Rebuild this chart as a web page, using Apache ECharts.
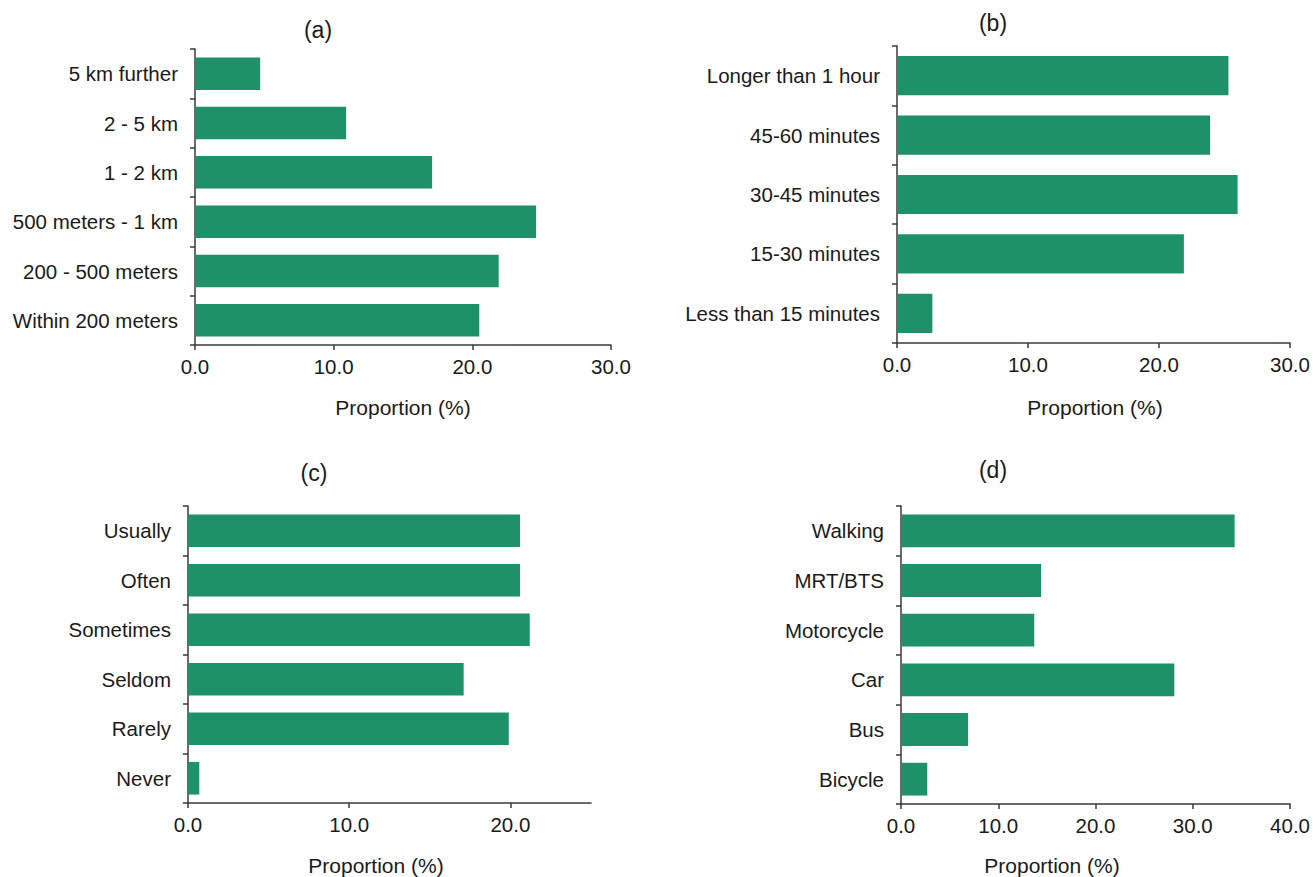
<!DOCTYPE html>
<html>
<head>
<meta charset="utf-8">
<script src="https://cdn.jsdelivr.net/npm/echarts@6/dist/echarts.min.js"></script>
<style>
  html, body { margin: 0; padding: 0; background: #ffffff; }
  #chart { width: 1313px; height: 877px; }
</style>
</head>
<body>
<div id="chart"></div>
<script>
// (a) distance
const distanceCategories = ['5 km further', '2 - 5 km', '1 - 2 km', '500 meters - 1 km', '200 - 500 meters', 'Within 200 meters'];
const distanceValues = [4.7, 10.9, 17.1, 24.6, 21.9, 20.5];
const distanceTicks = [0, 10, 20, 30];

// (b) duration
const durationCategories = ['Longer than 1 hour', '45-60 minutes', '30-45 minutes', '15-30 minutes', 'Less than 15 minutes'];
const durationValues = [25.3, 23.9, 26.0, 21.9, 2.7];
const durationTicks = [0, 10, 20, 30];

// (c) frequency
const frequencyCategories = ['Usually', 'Often', 'Sometimes', 'Seldom', 'Rarely', 'Never'];
const frequencyValues = [20.6, 20.6, 21.2, 17.1, 19.9, 0.7];
const frequencyTicks = [0, 10, 20];

// (d) travel mode
const modeCategories = ['Walking', 'MRT/BTS', 'Motorcycle', 'Car', 'Bus', 'Bicycle'];
const modeValues = [34.3, 14.4, 13.7, 28.1, 6.9, 2.7];
const modeTicks = [0, 10, 20, 30, 40];

const panelLabels = ['(a)', '(b)', '(c)', '(d)'];
const axisTitle = 'Proportion (%)';

const BAR_COLOR = '#1f9169';
const AXIS_COLOR = '#3a3a3a';
const TEXT_COLOR = '#1a1a1a';
const FONT = '"Liberation Sans", Arial, sans-serif';
const LABEL_SIZE = 20.5;

const panels = [
  { cats: distanceCategories, vals: distanceValues, ticks: distanceTicks, max: 30,
    grid: { left: 195, top: 49, width: 416, height: 296 }, label: panelLabels[0],
    labelPos: [318, 30], namePos: [403, 407] },
  { cats: durationCategories, vals: durationValues, ticks: durationTicks, max: 30,
    grid: { left: 897, top: 46, width: 393, height: 297 }, label: panelLabels[1],
    labelPos: [993, 23], namePos: [1095, 407] },
  { cats: frequencyCategories, vals: frequencyValues, ticks: frequencyTicks, max: 25,
    grid: { left: 188, top: 506, width: 403, height: 297 }, label: panelLabels[2],
    labelPos: [314, 473], namePos: [376, 865] },
  { cats: modeCategories, vals: modeValues, ticks: modeTicks, max: 40,
    grid: { left: 901, top: 506, width: 391, height: 298 }, label: panelLabels[3],
    labelPos: [993, 470], namePos: [1052, 865] }
];

const axisLineStyle = { color: AXIS_COLOR, width: 1.5 };

const option = {
  animation: false,
  backgroundColor: '#ffffff',
  textStyle: { fontFamily: FONT },
  title: [],
  grid: [],
  xAxis: [],
  yAxis: [],
  series: []
};

panels.forEach((p, i) => {
  option.grid.push(Object.assign({ containLabel: false }, p.grid));

  option.xAxis.push({
    type: 'value',
    gridIndex: i,
    min: 0,
    max: p.max,
    interval: 10,
    splitLine: { show: false },
    axisLine: { show: true, lineStyle: axisLineStyle },
    axisTick: { show: true, length: 5, lineStyle: axisLineStyle, customValues: p.ticks },
    axisLabel: {
      customValues: p.ticks,
      formatter: v => Number(v).toFixed(1),
      fontSize: LABEL_SIZE, color: TEXT_COLOR, fontFamily: FONT, margin: 11
    }
  });

  option.yAxis.push({
    type: 'category',
    gridIndex: i,
    inverse: true,
    data: p.cats,
    axisLine: { show: true, lineStyle: axisLineStyle },
    axisTick: { show: true, length: 5, lineStyle: axisLineStyle },
    axisLabel: { fontSize: LABEL_SIZE, color: TEXT_COLOR, fontFamily: FONT, margin: 17 }
  });

  option.series.push({
    type: 'bar',
    xAxisIndex: i,
    yAxisIndex: i,
    data: p.vals,
    barCategoryGap: '34%',
    itemStyle: { color: BAR_COLOR },
    silent: true
  });

  option.title.push({
    text: p.label,
    left: p.labelPos[0],
    top: p.labelPos[1],
    textAlign: 'center',
    textVerticalAlign: 'middle',
    padding: 0,
    textStyle: { fontSize: 23, fontWeight: 'normal', color: TEXT_COLOR, fontFamily: FONT }
  });
  option.title.push({
    text: axisTitle,
    left: p.namePos[0],
    top: p.namePos[1],
    textAlign: 'center',
    textVerticalAlign: 'middle',
    padding: 0,
    textStyle: { fontSize: 21, fontWeight: 'normal', color: TEXT_COLOR, fontFamily: FONT }
  });
});

const chart = echarts.init(document.getElementById('chart'), null, { renderer: 'svg' });
chart.setOption(option);
</script>
</body>
</html>
